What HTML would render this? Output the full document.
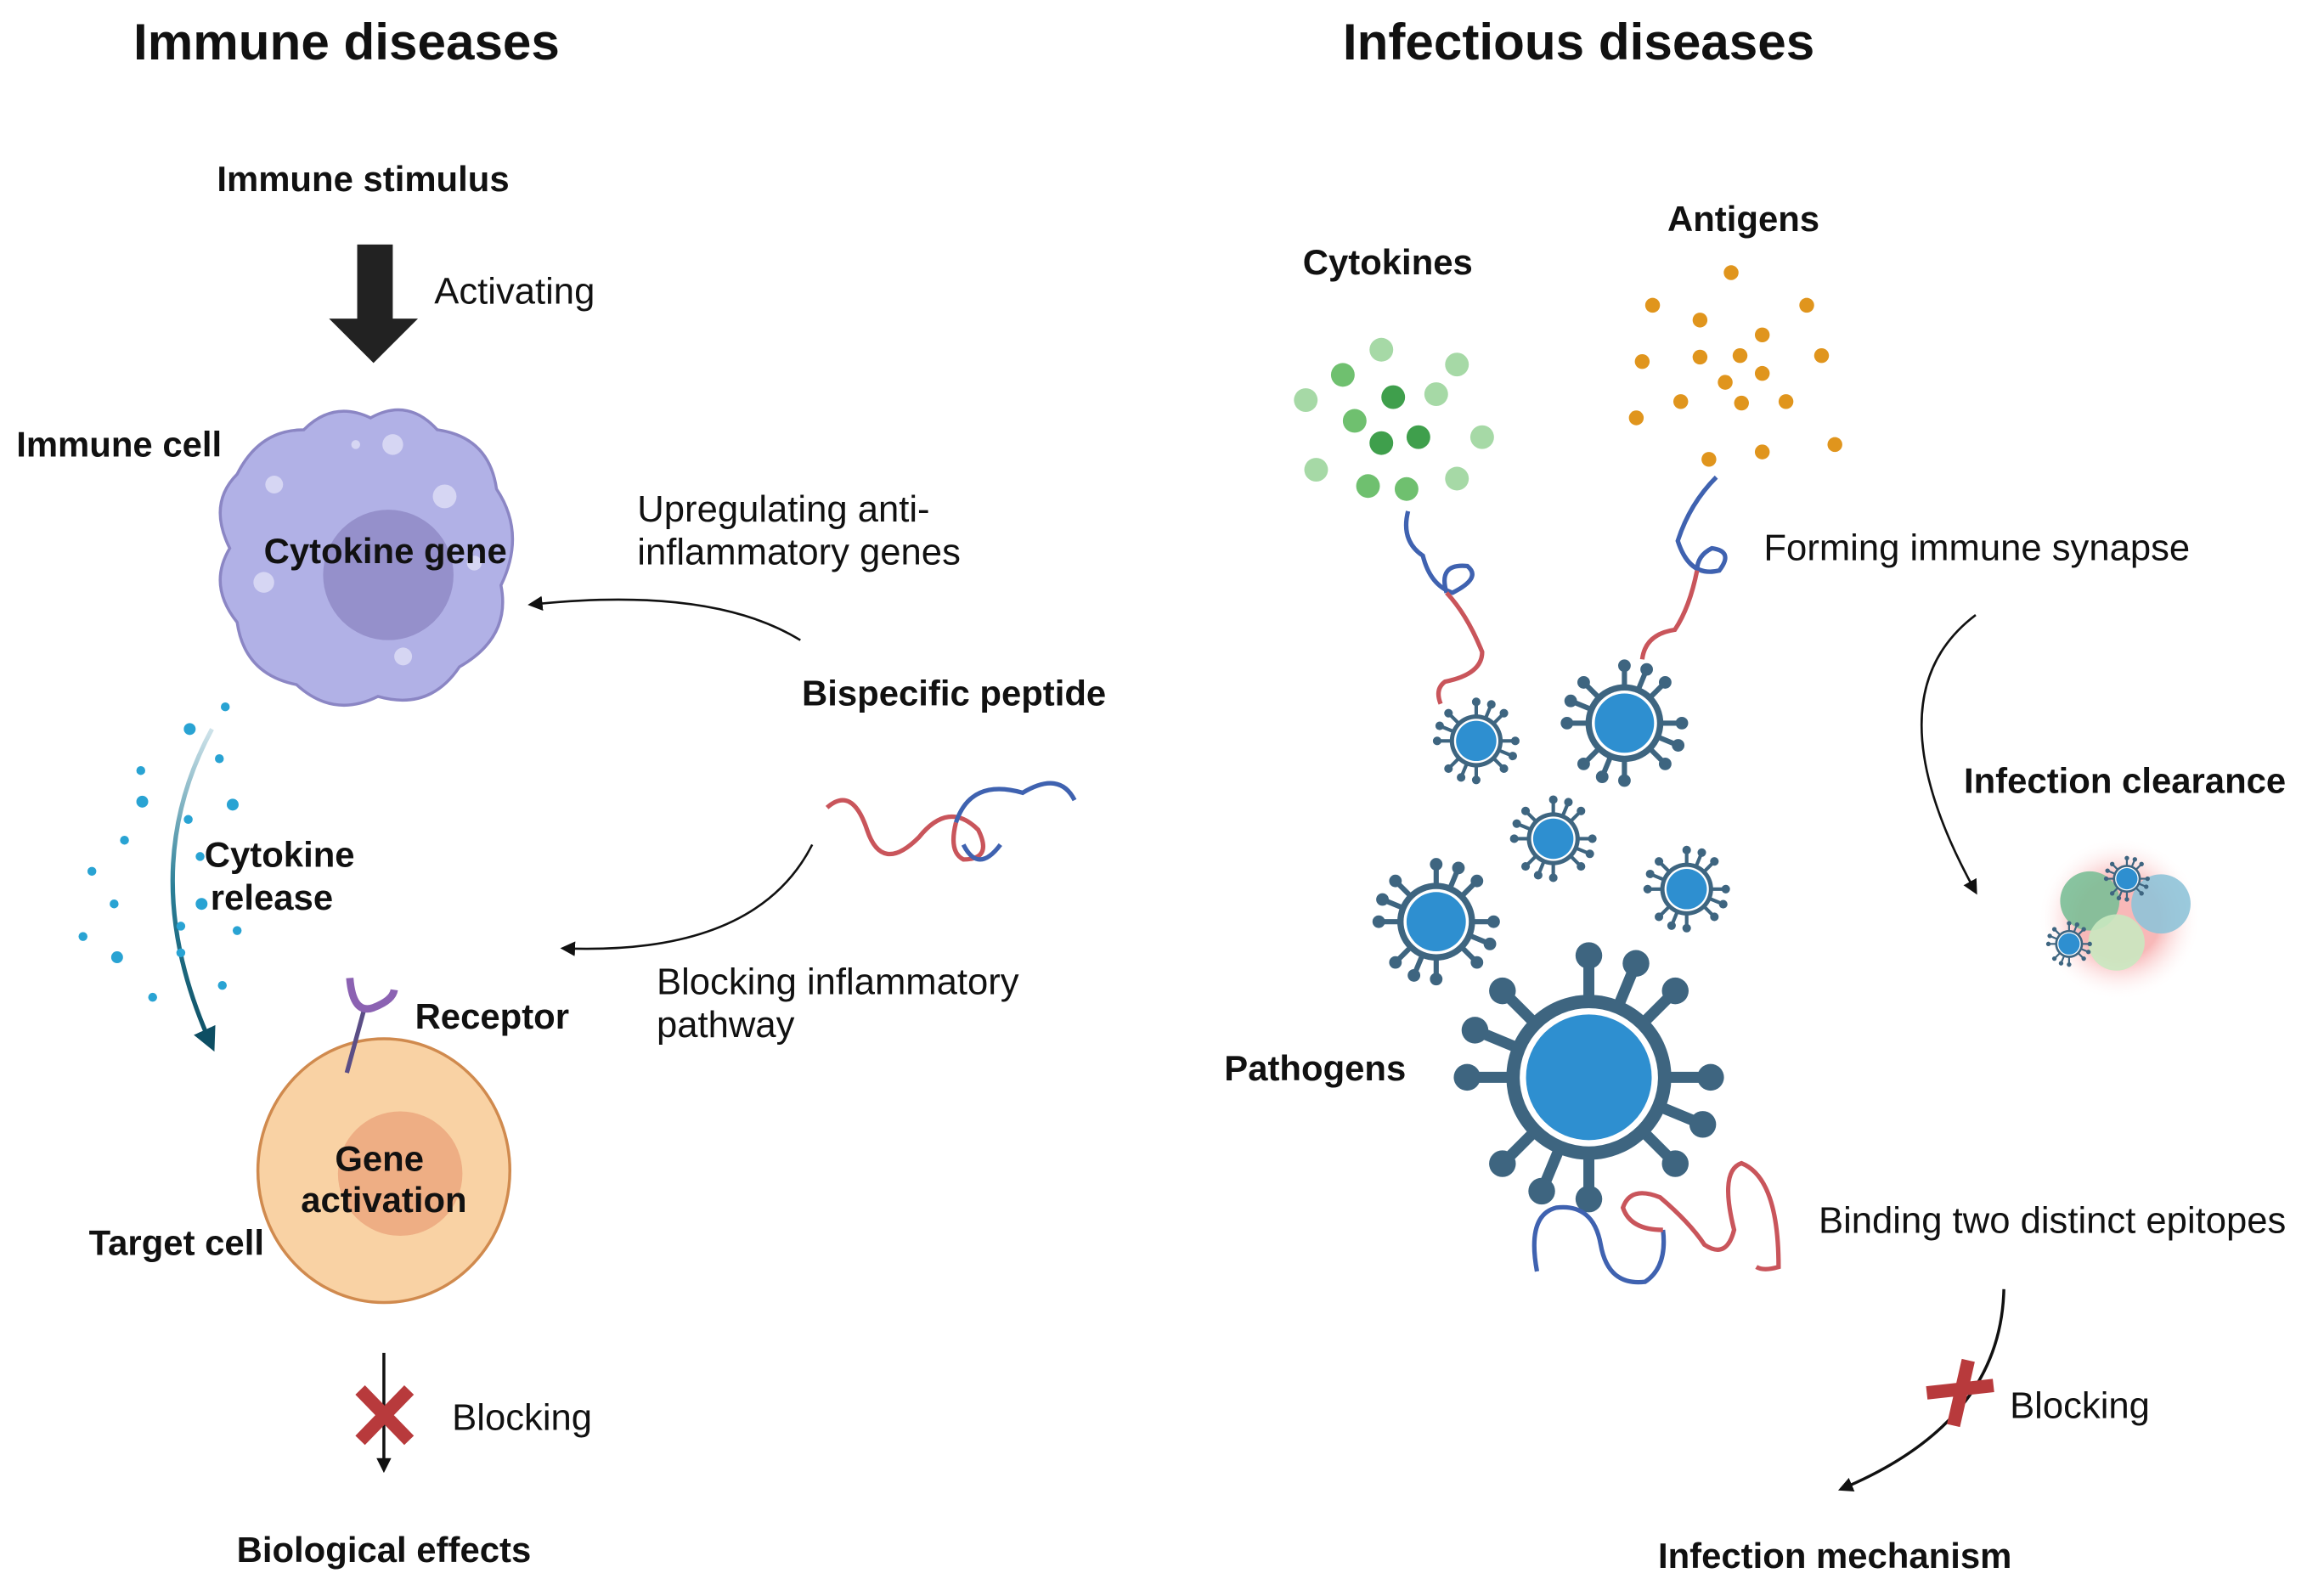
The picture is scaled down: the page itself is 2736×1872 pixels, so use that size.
<!DOCTYPE html>
<html><head><meta charset="utf-8"><style>
html,body{margin:0;padding:0;background:#fff;}
svg{display:block;}
text{font-family:"Liberation Sans",sans-serif;fill:#111;}
.b{font-weight:bold;font-size:24px;}
.n{font-size:25px;}
.t{font-weight:bold;font-size:34.5px;}
</style></head><body>
<svg width="2736" height="1872" viewBox="0 0 1568 1073" preserveAspectRatio="none" xmlns="http://www.w3.org/2000/svg">
<defs>
<marker id="ah" markerWidth="10" markerHeight="10" refX="8" refY="5" orient="auto" markerUnits="userSpaceOnUse"><path d="M0,0 L10,5 L0,10 Z" fill="#111"/></marker>
<marker id="ahb" markerWidth="16" markerHeight="16" refX="12" refY="8" orient="auto" markerUnits="userSpaceOnUse"><path d="M0,0 L16,8 L0,16 Z" fill="#0d4e63"/></marker>
<radialGradient id="glow"><stop offset="0.5" stop-color="#f59a9a" stop-opacity="0.7"/><stop offset="1" stop-color="#fff" stop-opacity="0"/></radialGradient>
<linearGradient id="cg" x1="0" y1="0" x2="0" y2="1"><stop offset="0" stop-color="#cfe3ea"/><stop offset="0.5" stop-color="#2b7f97"/><stop offset="1" stop-color="#0d4e63"/></linearGradient>
<g id="vir">
 <g stroke="#3e6580" stroke-width="0.14" stroke-linecap="round">
  <line x1="0" y1="0" x2="0" y2="-1.55"/><line x1="0" y1="0" x2="1.1" y2="-1.1"/><line x1="0" y1="0" x2="1.55" y2="0"/><line x1="0" y1="0" x2="1.1" y2="1.1"/><line x1="0" y1="0" x2="0" y2="1.55"/><line x1="0" y1="0" x2="-1.1" y2="1.1"/><line x1="0" y1="0" x2="-1.55" y2="0"/><line x1="0" y1="0" x2="-1.1" y2="-1.1"/>
  <line x1="0" y1="0" x2="0.6" y2="-1.45"/><line x1="0" y1="0" x2="1.45" y2="0.6"/><line x1="0" y1="0" x2="-0.6" y2="1.45"/><line x1="0" y1="0" x2="-1.45" y2="-0.6"/>
 </g>
 <g fill="#3e6580">
  <circle cx="0" cy="-1.55" r="0.17"/><circle cx="1.1" cy="-1.1" r="0.17"/><circle cx="1.55" cy="0" r="0.17"/><circle cx="1.1" cy="1.1" r="0.17"/><circle cx="0" cy="1.55" r="0.17"/><circle cx="-1.1" cy="1.1" r="0.17"/><circle cx="-1.55" cy="0" r="0.17"/><circle cx="-1.1" cy="-1.1" r="0.17"/>
  <circle cx="0.6" cy="-1.45" r="0.17"/><circle cx="1.45" cy="0.6" r="0.17"/><circle cx="-0.6" cy="1.45" r="0.17"/><circle cx="-1.45" cy="-0.6" r="0.17"/>
 </g>
 <circle r="1.05" fill="#3e6580"/><circle r="0.88" fill="#fff"/><circle r="0.8" fill="#2e8fd0"/>
</g>
</defs>

<text class="t" x="90" y="40">Immune diseases</text>
<text class="t" x="906" y="40">Infectious diseases</text>

<!-- Left -->
<text class="b" x="245" y="129" text-anchor="middle">Immune stimulus</text>
<path d="M241,165 H265 V215 H282 L252,245 L222,215 H241 Z" fill="#222"/>
<text class="n" x="293" y="205">Activating</text>
<text class="b" x="11" y="308">Immune cell</text>
<path d="M160,320 Q175,290 205,290 Q225,270 250,282 Q275,268 295,290 Q330,295 335,330 Q355,360 338,395 Q345,430 310,450 Q290,480 255,470 Q225,485 200,462 Q165,455 160,420 Q140,395 155,370 Q140,340 160,320 Z" fill="#b1b1e6" stroke="#8b86c4" stroke-width="2"/>
<circle cx="262" cy="388" r="44" fill="#9590cb"/>
<g fill="#d6d6f3"><circle cx="265" cy="300" r="7"/><circle cx="300" cy="335" r="8"/><circle cx="185" cy="327" r="6"/><circle cx="178" cy="393" r="7"/><circle cx="272" cy="443" r="6"/><circle cx="320" cy="380" r="5"/><circle cx="240" cy="300" r="3"/></g>
<text class="b" x="260" y="380" text-anchor="middle">Cytokine gene</text>
<text class="n" x="430" y="352">Upregulating anti-</text>
<text class="n" x="430" y="381">inflammatory genes</text>
<path d="M540,432 Q480,395 358,408" fill="none" stroke="#111" stroke-width="1.5" marker-end="url(#ah)"/>
<text class="b" x="541" y="476">Bispecific peptide</text>
<path d="M558,545 Q575,530 585,560 Q595,590 620,565 Q640,540 660,560 Q670,580 650,580 Q640,575 645,555" fill="none" stroke="#c9555b" stroke-width="3"/>
<path d="M645,555 Q655,525 690,535 Q715,520 725,540 M650,570 Q660,590 675,570" fill="none" stroke="#3f62b0" stroke-width="3"/>
<path d="M548,570 Q510,645 380,640" fill="none" stroke="#111" stroke-width="1.5" marker-end="url(#ah)"/>
<text class="n" x="443" y="671">Blocking inflammatory</text>
<text class="n" x="443" y="700">pathway</text>
<path d="M143,492 Q90,590 143,706" fill="none" stroke="url(#cg)" stroke-width="3" marker-end="url(#ahb)"/>
<g fill="#29a3d3"><circle cx="128" cy="492" r="4"/><circle cx="152" cy="477" r="3"/><circle cx="95" cy="520" r="3"/><circle cx="148" cy="512" r="3"/><circle cx="96" cy="541" r="4"/><circle cx="157" cy="543" r="4"/><circle cx="127" cy="553" r="3"/><circle cx="84" cy="567" r="3"/><circle cx="62" cy="588" r="3"/><circle cx="135" cy="578" r="3"/><circle cx="77" cy="610" r="3"/><circle cx="136" cy="610" r="4"/><circle cx="56" cy="632" r="3"/><circle cx="122" cy="625" r="3"/><circle cx="160" cy="628" r="3"/><circle cx="79" cy="646" r="4"/><circle cx="122" cy="643" r="3"/><circle cx="150" cy="665" r="3"/><circle cx="103" cy="673" r="3"/></g>
<text class="b" x="138" y="585">Cytokine</text>
<text class="b" x="142" y="614">release</text>
<ellipse cx="259" cy="790" rx="85" ry="89" fill="#f9d2a4" stroke="#d08a4e" stroke-width="2"/>
<circle cx="270" cy="792" r="42" fill="#eeae84"/>
<line x1="246" y1="680" x2="234" y2="724" stroke="#5b4e86" stroke-width="3"/>
<path d="M236,660 Q238,685 252,680 Q265,675 266,668" fill="none" stroke="#8b62b2" stroke-width="5"/>
<text class="b" x="280" y="694">Receptor</text>
<text class="b" x="256" y="790" text-anchor="middle">Gene</text>
<text class="b" x="259" y="818" text-anchor="middle">activation</text>
<text class="b" x="60" y="847">Target cell</text>
<line x1="259" y1="913" x2="259" y2="992" stroke="#111" stroke-width="2" marker-end="url(#ah)"/>
<path d="M243,938 L276,972 M276,938 L243,972" stroke="#b83a3c" stroke-width="9"/>
<text class="n" x="305" y="965">Blocking</text>
<text class="b" x="259" y="1054" text-anchor="middle">Biological effects</text>

<!-- Right -->
<text class="b" x="879" y="185">Cytokines</text>
<text class="b" x="1125" y="156">Antigens</text>
<g fill="#a6d9a6"><circle cx="932" cy="236" r="8"/><circle cx="983" cy="246" r="8"/><circle cx="881" cy="270" r="8"/><circle cx="969" cy="266" r="8"/><circle cx="1000" cy="295" r="8"/><circle cx="888" cy="317" r="8"/><circle cx="983" cy="323" r="8"/></g>
<g fill="#6fc06f"><circle cx="906" cy="253" r="8"/><circle cx="914" cy="284" r="8"/><circle cx="923" cy="328" r="8"/><circle cx="949" cy="330" r="8"/></g>
<g fill="#3f9f4c"><circle cx="940" cy="268" r="8"/><circle cx="932" cy="299" r="8"/><circle cx="957" cy="295" r="8"/></g>
<g fill="#e0951d"><circle cx="1168" cy="184" r="5"/><circle cx="1115" cy="206" r="5"/><circle cx="1219" cy="206" r="5"/><circle cx="1147" cy="216" r="5"/><circle cx="1189" cy="226" r="5"/><circle cx="1108" cy="244" r="5"/><circle cx="1147" cy="241" r="5"/><circle cx="1174" cy="240" r="5"/><circle cx="1229" cy="240" r="5"/><circle cx="1189" cy="252" r="5"/><circle cx="1164" cy="258" r="5"/><circle cx="1134" cy="271" r="5"/><circle cx="1175" cy="272" r="5"/><circle cx="1205" cy="271" r="5"/><circle cx="1104" cy="282" r="5"/><circle cx="1153" cy="310" r="5"/><circle cx="1189" cy="305" r="5"/><circle cx="1238" cy="300" r="5"/></g>
<path d="M950,345 Q945,365 960,375 Q965,395 980,400 Q1000,390 990,382 Q970,380 976,400" fill="none" stroke="#3f62b0" stroke-width="3"/>
<path d="M976,400 Q990,415 1000,440 Q1000,455 975,460 Q968,465 972,475" fill="none" stroke="#c9555b" stroke-width="3"/>
<path d="M1158,322 Q1140,340 1132,365 Q1140,390 1160,385 Q1170,372 1155,370 Q1145,375 1145,385" fill="none" stroke="#3f62b0" stroke-width="3"/>
<path d="M1145,385 Q1140,410 1130,425 Q1110,428 1108,445" fill="none" stroke="#c9555b" stroke-width="3"/>
<text class="n" x="1190" y="378">Forming immune synapse</text>
<use href="#vir" transform="translate(996,500) scale(17)"/>
<use href="#vir" transform="translate(1096,488) scale(25)"/>
<use href="#vir" transform="translate(1048,566) scale(17)"/>
<use href="#vir" transform="translate(1138,600) scale(17)"/>
<use href="#vir" transform="translate(969,622) scale(25)"/>
<use href="#vir" transform="translate(1072,727) scale(53)"/>
<text class="b" x="826" y="729">Pathogens</text>
<path d="M1037,858 Q1030,820 1050,815 Q1075,812 1080,840 Q1085,868 1110,865 Q1125,855 1122,830" fill="none" stroke="#3f62b0" stroke-width="3"/>
<path d="M1122,830 Q1100,830 1095,815 Q1100,800 1120,808 Q1140,825 1150,840 Q1165,850 1170,830 Q1160,790 1175,785 Q1200,795 1200,855 Q1190,858 1185,855" fill="none" stroke="#c9555b" stroke-width="3"/>
<text class="n" x="1227" y="832">Binding two distinct epitopes</text>
<path d="M1333,415 Q1260,470 1333,602" fill="none" stroke="#111" stroke-width="1.5" marker-end="url(#ah)"/>
<text class="b" x="1325" y="535">Infection clearance</text>
<circle cx="1430" cy="620" r="55" fill="url(#glow)"/>
<circle cx="1410" cy="608" r="20" fill="#7bbf97" opacity="0.9"/>
<circle cx="1458" cy="610" r="20" fill="#8fc3d8" opacity="0.9"/>
<circle cx="1428" cy="636" r="19" fill="#c9e8c0" opacity="0.9"/>
<use href="#vir" transform="translate(1435,593) scale(9)"/>
<use href="#vir" transform="translate(1396,637) scale(9)"/>
<path d="M1352,870 Q1350,960 1242,1005" fill="none" stroke="#111" stroke-width="2" marker-end="url(#ah)"/>
<path d="M1300,940 L1345,935 M1328,918 L1318,962" stroke="#b83a3c" stroke-width="9"/>
<text class="n" x="1356" y="957">Blocking</text>
<text class="b" x="1238" y="1058" text-anchor="middle">Infection mechanism</text>
</svg>
</body></html>
